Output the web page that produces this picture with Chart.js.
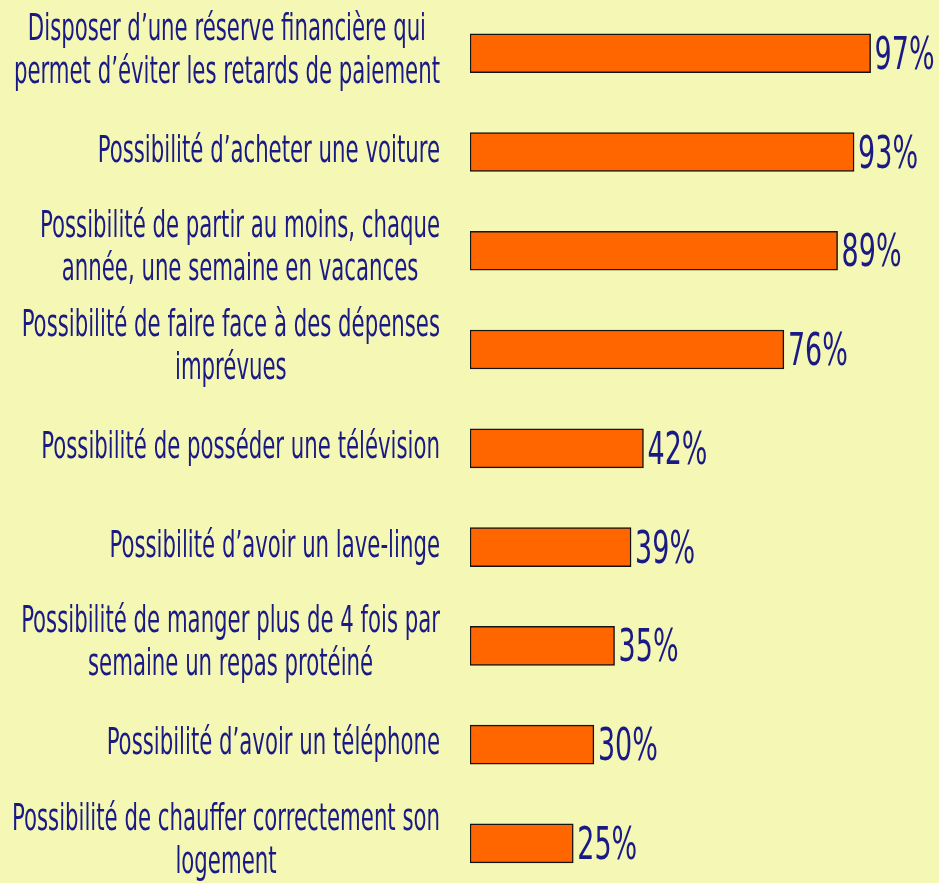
<!DOCTYPE html>
<html><head><meta charset="utf-8">
<script src="https://cdn.jsdelivr.net/npm/chart.js@4/dist/chart.umd.min.js"></script>
<style>
html,body{margin:0;padding:0;background:#F5F7B4;overflow:hidden;}
#wrap{position:relative;width:939px;height:893px;}
</style></head><body>
<div id="wrap"><canvas id="c"></canvas></div>
<script>
const categories = [
  ["Disposer d’une réserve financière qui", "permet d’éviter les retards de paiement"],
  "Possibilité d’acheter une voiture",
  ["Possibilité de partir au moins, chaque", "année, une semaine en vacances"],
  ["Possibilité de faire face à des dépenses", "imprévues"],
  "Possibilité de posséder une télévision",
  "Possibilité d’avoir un lave-linge",
  ["Possibilité de manger plus de 4 fois par", "semaine un repas protéiné"],
  "Possibilité d’avoir un téléphone",
  ["Possibilité de chauffer correctement son", "logement"]
];
const values = [97, 93, 89, 76, 42, 39, 35, 30, 25];
const valueLabels = values.map(v => v + "%");

const FONT_FAMILY = '"Liberation Sans Narrow","DejaVu Sans Condensed","Liberation Sans",sans-serif';
const TEXT_COLOR = '#1a1a85';

class SqueezedCategory extends Chart.CategoryScale {
  drawLabels() {
    const ctx = this.ctx;
    const opts = this.options.ticks;
    const font = Chart.helpers.toFont(opts.font);
    ctx.save();
    ctx.font = font.string;
    ctx.fillStyle = opts.color;
    ctx.textBaseline = 'middle';
    ctx.textAlign = 'center';
    const ref = ctx.measureText("Possibilité de chauffer correctement son").width;
    const k = 428 / ref;
    const lh = 43.3;
    const x0 = this.right - opts.padding;
    this.ticks.forEach((t, i) => {
      const y = this.getPixelForTick(i);
      const lines = Array.isArray(t.label) ? t.label : [t.label];
      const w = Math.max(...lines.map(l => ctx.measureText(l).width)) * k;
      const cx = x0 - w / 2;
      const off = lines.length > 1 ? -2 : 0;
      lines.forEach((l, j) => {
        const ly = y + off + (j - (lines.length - 1) / 2) * lh;
        ctx.save();
        ctx.translate(cx, ly);
        ctx.scale(k, 1);
        ctx.fillText(l, 0, 0);
        ctx.restore();
      });
    });
    ctx.restore();
  }
}
SqueezedCategory.id = 'squeezedCategory';
SqueezedCategory.defaults = Chart.CategoryScale.defaults;
Chart.register(SqueezedCategory);

const valueLabelPlugin = {
  id: 'valueLabels',
  afterDatasetsDraw(chart) {
    const ctx = chart.ctx;
    const meta = chart.getDatasetMeta(0);
    ctx.save();
    ctx.font = '44px ' + FONT_FAMILY;
    ctx.fillStyle = TEXT_COLOR;
    ctx.textAlign = 'left';
    ctx.textBaseline = 'alphabetic';
    const k = 60 / ctx.measureText("97%").width;
    meta.data.forEach((bar, i) => {
      ctx.save();
      ctx.translate(bar.x + 4, bar.y + 15.5);
      ctx.scale(k, 1);
      ctx.fillText(valueLabels[i], 0, 0);
      ctx.restore();
    });
    ctx.restore();
  }
};

new Chart(document.getElementById('c'), {
  type: 'bar',
  data: {
    labels: categories,
    datasets: [{
      data: values,
      backgroundColor: '#FF6600',
      borderColor: '#141414',
      borderWidth: 1.5,
      borderSkipped: false,
      barThickness: 39
    }]
  },
  options: {
    indexAxis: 'y',
    responsive: true,
    maintainAspectRatio: false,
    animation: false,
    layout: { padding: { top: 3.9, bottom: 0.3, left: 0, right: 56 } },
    plugins: { legend: { display: false }, tooltip: { enabled: false } },
    scales: {
      x: { min: 0, max: 100, display: false },
      y: {
        type: 'squeezedCategory',
        grid: { display: false, drawTicks: false },
        border: { display: false },
        ticks: {
          padding: 30,
          color: TEXT_COLOR,
          font: { family: FONT_FAMILY, size: 38 }
        },
        afterFit(s) { s.width = 470; s.paddingTop = 0; s.paddingBottom = 0; }
      }
    }
  },
  plugins: [valueLabelPlugin]
});
</script>
</body></html>
